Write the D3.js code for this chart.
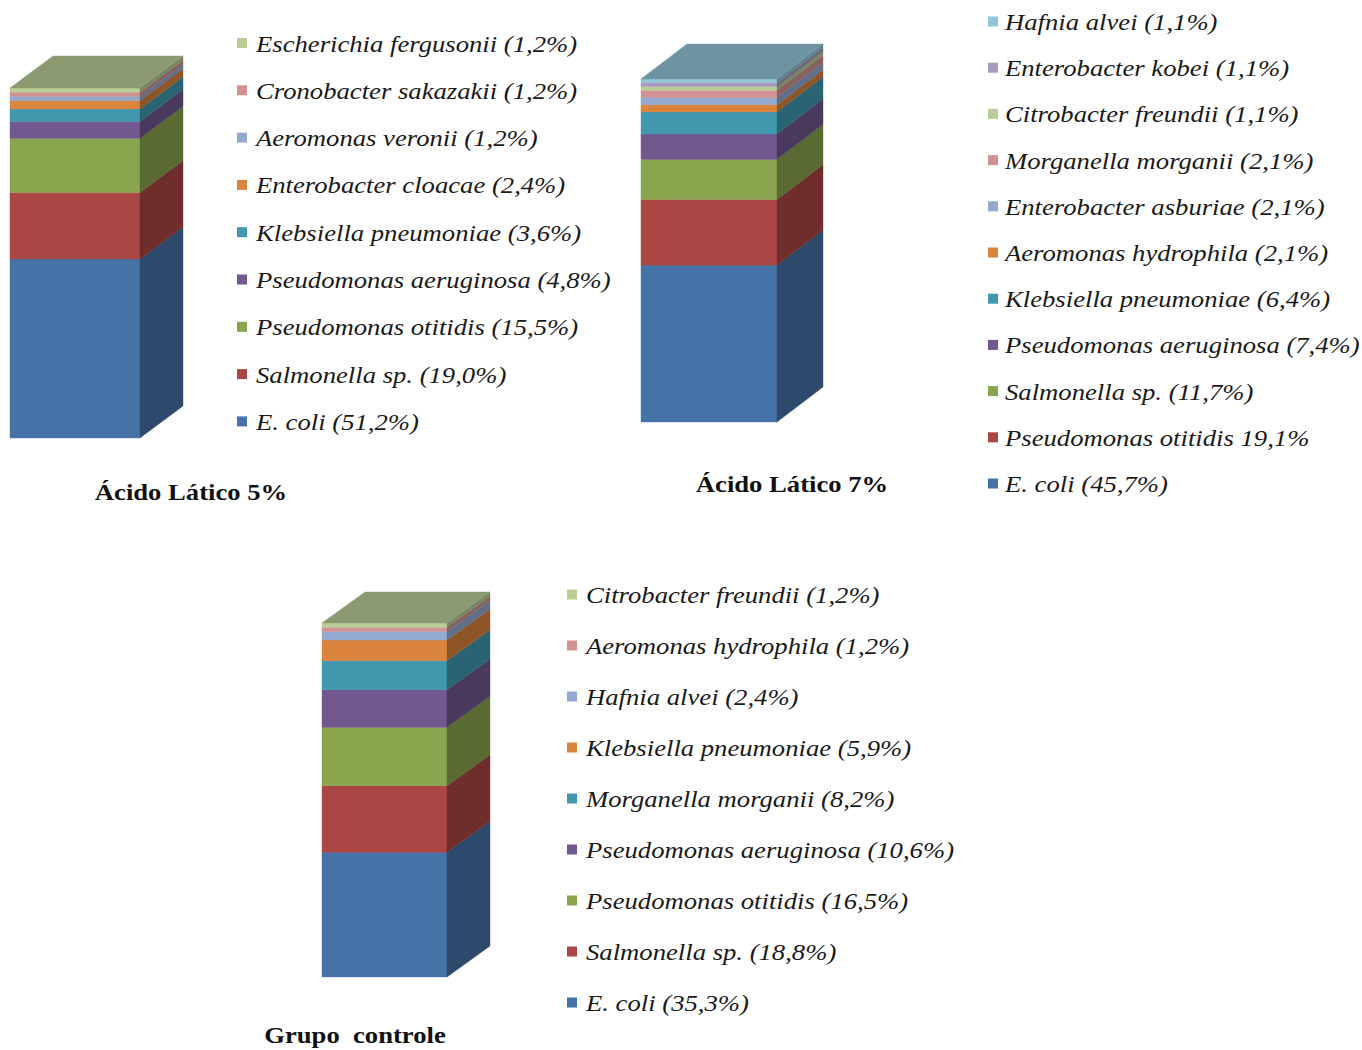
<!DOCTYPE html>
<html>
<head>
<meta charset="utf-8">
<script src="https://cdn.jsdelivr.net/npm/d3@7"></script>
<style>
  body { margin: 0; background: #ffffff; }
  svg { display: block; }
</style>
</head>
<body>
<svg id="chart" width="1362" height="1050"></svg>
<script>
// Series colours, in stacking order (bottom segment first)
const seriesColors = ["#4572A7", "#AA4643", "#89A54E", "#71588F", "#4198AF", "#DB843D",
                      "#93A9CF", "#D19392", "#B9CD96", "#A99BBD", "#92C5D7"];

// Ácido Lático 5%
const namesLA5 = ["E. coli", "Salmonella sp.", "Pseudomonas otitidis", "Pseudomonas aeruginosa",
                  "Klebsiella pneumoniae", "Enterobacter cloacae", "Aeromonas veronii",
                  "Cronobacter sakazakii", "Escherichia fergusonii"];
const valuesLA5 = [51.2, 19.0, 15.5, 4.8, 3.6, 2.4, 1.2, 1.2, 1.2];

// Ácido Lático 7%
const namesLA7 = ["E. coli", "Pseudomonas otitidis", "Salmonella sp.", "Pseudomonas aeruginosa",
                  "Klebsiella pneumoniae", "Aeromonas hydrophila", "Enterobacter asburiae",
                  "Morganella morganii", "Citrobacter freundii", "Enterobacter kobei", "Hafnia alvei"];
const valuesLA7 = [45.7, 19.1, 11.7, 7.4, 6.4, 2.1, 2.1, 2.1, 1.1, 1.1, 1.1];
const unbracketedLA7 = ["Pseudomonas otitidis"];

// Grupo controle
const namesCtrl = ["E. coli", "Salmonella sp.", "Pseudomonas otitidis", "Pseudomonas aeruginosa",
                   "Morganella morganii", "Klebsiella pneumoniae", "Hafnia alvei",
                   "Aeromonas hydrophila", "Citrobacter freundii"];
const valuesCtrl = [35.3, 18.8, 16.5, 10.6, 8.2, 5.9, 2.4, 1.2, 1.2];

const panelTitles = ["Ácido Lático 5%", "Ácido Lático 7%", "Grupo\u00a0 controle"];

// ---------------------------------------------------------------------------
const svg = d3.select("#chart");
const fmtPct = v => d3.format(".1f")(v).replace(".", ",");
const serif = "'Liberation Serif', 'Times New Roman', Times, serif";
const legendStretch = 1.16;
const titleStretch = 1.11;

const panels = [
  { names: namesLA5, values: valuesLA5, plain: [], title: panelTitles[0],
    bar: { x: 10, w: 130, bottom: 438, h: 350, dx: 43, dy: 32 },
    legend: { mx: 237, tx: 256, y0: 43, step: 47.3 },
    titlePos: { x: 191, y: 500 } },
  { names: namesLA7, values: valuesLA7, plain: unbracketedLA7, title: panelTitles[1],
    bar: { x: 641, w: 136, bottom: 422, h: 343, dx: 46, dy: 35 },
    legend: { mx: 988, tx: 1005, y0: 21.5, step: 46.2 },
    titlePos: { x: 792, y: 492 } },
  { names: namesCtrl, values: valuesCtrl, plain: [], title: panelTitles[2],
    bar: { x: 322, w: 125, bottom: 977, h: 354, dx: 43, dy: 31 },
    legend: { mx: 567, tx: 586, y0: 594.5, step: 51 },
    titlePos: { x: 355, y: 1043 } }
];

function shade(c, k) {
  const col = d3.rgb(c);
  return d3.rgb(col.r * k, col.g * k, col.b * k).formatHex();
}

panels.forEach(p => {
  const g = svg.append("g");
  const b = p.bar;
  const total = d3.sum(p.values);
  const y = d3.scaleLinear().domain([0, total]).range([b.bottom, b.bottom - b.h]);

  const stacked = d3.stack().keys(p.names.map((_, i) => i))([
    Object.fromEntries(p.values.map((v, i) => [i, v]))
  ]).map((s, i) => ({ i, y0: s[0][0], y1: s[0][1] }));

  // front faces
  g.selectAll("rect.front").data(stacked).join("rect")
    .attr("class", "front")
    .attr("x", b.x)
    .attr("width", b.w)
    .attr("y", d => y(d.y1))
    .attr("height", d => y(d.y0) - y(d.y1))
    .attr("fill", d => seriesColors[d.i])
    .attr("stroke", d => seriesColors[d.i])
    .attr("stroke-width", 0.4);

  // side faces
  const xr = b.x + b.w;
  g.selectAll("path.side").data(stacked).join("path")
    .attr("class", "side")
    .attr("d", d => {
      const t = y(d.y1), bt = y(d.y0);
      return `M${xr},${bt}L${xr},${t}L${xr + b.dx},${t - b.dy}L${xr + b.dx},${bt - b.dy}Z`;
    })
    .attr("fill", d => shade(seriesColors[d.i], 0.65))
    .attr("stroke", d => shade(seriesColors[d.i], 0.65))
    .attr("stroke-width", 0.4);

  // top face takes the colour of the uppermost segment
  const top = stacked[stacked.length - 1];
  const ty = y(top.y1);
  g.append("path")
    .attr("d", `M${b.x},${ty}L${b.x + b.dx},${ty - b.dy}L${xr + b.dx},${ty - b.dy}L${xr},${ty}Z`)
    .attr("fill", shade(seriesColors[top.i], 0.75))
    .attr("stroke", shade(seriesColors[top.i], 0.75))
    .attr("stroke-width", 0.4);

  // legend, listed from the top segment down
  const L = p.legend;
  const items = p.names.map((n, i) => ({ n, v: p.values[i], i })).reverse();
  const rows = g.selectAll("g.leg").data(items).join("g")
    .attr("class", "leg")
    .attr("transform", (d, k) => `translate(0,${L.y0 + k * L.step})`);
  rows.append("rect")
    .attr("x", L.mx).attr("y", -5).attr("width", 10).attr("height", 10)
    .attr("fill", d => seriesColors[d.i]);
  rows.append("text")
    .attr("transform", `translate(${L.tx},8.5) scale(${legendStretch},1)`)
    .attr("font-family", serif)
    .attr("font-style", "italic")
    .attr("font-size", 23)
    .attr("fill", "#1a1a1a")
    .text(d => p.plain.includes(d.n) ? `${d.n} ${fmtPct(d.v)}%` : `${d.n} (${fmtPct(d.v)}%)`);

  g.append("text")
    .attr("transform", `translate(${p.titlePos.x},${p.titlePos.y}) scale(${titleStretch},1)`)
    .attr("text-anchor", "middle")
    .attr("font-family", serif)
    .attr("font-weight", "bold")
    .attr("font-size", 24)
    .attr("fill", "#111")
    .text(p.title);
});
</script>
</body>
</html>
